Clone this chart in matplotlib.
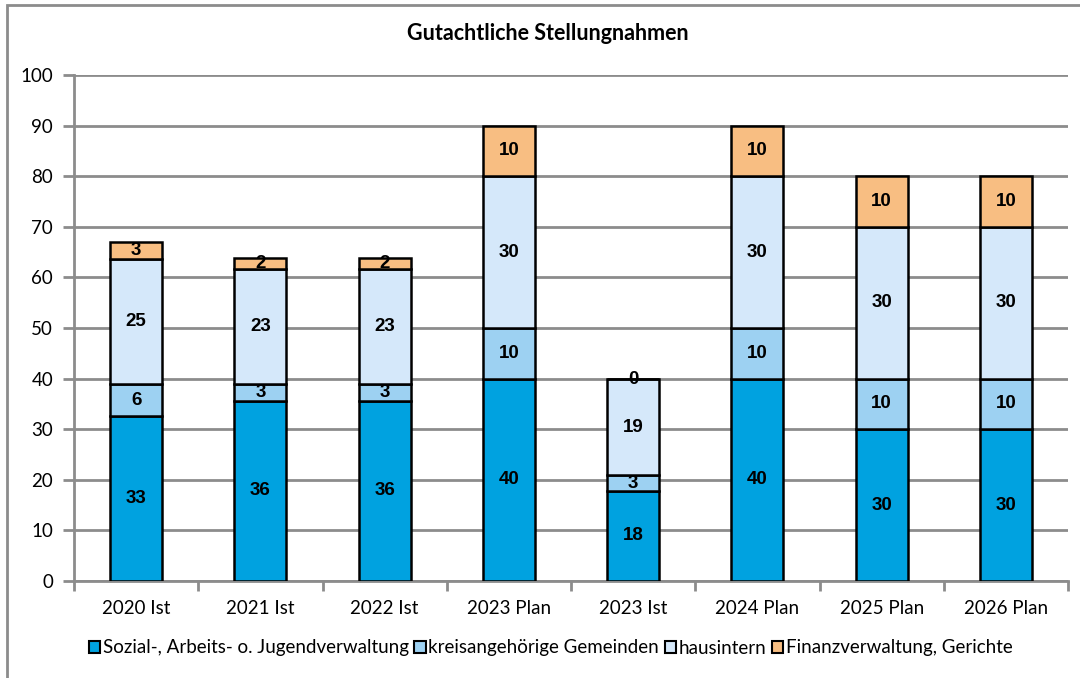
import matplotlib.pyplot as plt
from matplotlib.patches import Rectangle, Patch
import numpy as np

categories = ["2020 Ist", "2021 Ist", "2022 Ist", "2023 Plan", "2023 Ist",
              "2024 Plan", "2025 Plan", "2026 Plan"]
series_names = ["Sozial-, Arbeits- o. Jugendverwaltung", "kreisangehörige Gemeinden",
                "hausintern", "Finanzverwaltung, Gerichte"]
sozial = [32.6, 35.6, 35.6, 40, 17.8, 40, 30, 30]
gemeinden = [6.3, 3.3, 3.3, 10, 3.1, 10, 10, 10]
hausintern = [24.7, 22.8, 22.8, 30, 19.0, 30, 30, 30]
finanz = [3.3, 2.1, 2.1, 10, 0, 10, 10, 10]
colors = ["#00A2E0", "#9DD1F2", "#D5E8FA", "#F8BE82"]

grid_c = "#8C8C8C"

fig = plt.figure(figsize=(10.8, 6.78), dpi=100)
ax = fig.add_axes([74 / 1080, 1 - 581 / 678, (1068 - 74) / 1080, (581 - 75) / 678])

# Rahmen um das Diagramm
fig.patches.append(Rectangle((7 / 1080, -0.1), 1.2, 1 - 5 / 678 + 0.1,
                             transform=fig.transFigure, fill=False,
                             edgecolor=grid_c, linewidth=2, zorder=0))

x = np.arange(len(categories))
bottom = np.zeros(len(categories))
for vals, col in zip([sozial, gemeinden, hausintern, finanz], colors):
    vals = np.array(vals, dtype=float)
    ax.bar(x, vals, 0.42, bottom=bottom, color=col, edgecolor="black",
           linewidth=1.8, zorder=3)
    for xi, b, v in zip(x, bottom, vals):
        ax.text(xi, b + v / 2, f"{v:.0f}", ha="center", va="center",
                fontsize=13.5, fontweight="bold", family="Liberation Sans", zorder=4)
    bottom += vals

ax.set_xlim(-0.5, len(categories) - 0.5)
ax.set_ylim(0, 100)
ax.set_yticks(range(0, 101, 10))
ax.yaxis.grid(True, color=grid_c, linewidth=2, zorder=0)
ax.set_axisbelow(True)

ax.set_xticks(x)
ax.set_xticklabels(categories, family="Lato", fontsize=13.5)
ax.set_xticks(np.arange(-0.5, len(categories)), minor=True)
ax.tick_params(axis="x", which="major", length=0, pad=14)
ax.tick_params(axis="x", which="minor", length=7, width=2, color=grid_c)
ax.tick_params(axis="y", length=8, width=2, color=grid_c, pad=7)
for lab in ax.get_yticklabels():
    lab.set_family("Lato")
    lab.set_fontsize(13.5)

for s in ["top", "right"]:
    ax.spines[s].set_visible(False)
for s in ["left", "bottom"]:
    ax.spines[s].set_color(grid_c)
    ax.spines[s].set_linewidth(2)

fig.text(0.507, 1 - 33 / 678, "Gutachtliche Stellungnahmen", ha="center", va="center",
         fontsize=15.5, fontweight="bold", family="Lato")

handles = [Patch(facecolor=c, edgecolor="black", linewidth=1.5) for c in colors]
fig.legend(handles, series_names, loc="center", bbox_to_anchor=(0.51, 1 - 648 / 678),
           ncol=4, frameon=False, prop={"family": "Lato", "size": 13.5},
           handlelength=0.6, handleheight=0.6, handletextpad=0.15, columnspacing=0.3)

fig.savefig("out.png", dpi=100)
